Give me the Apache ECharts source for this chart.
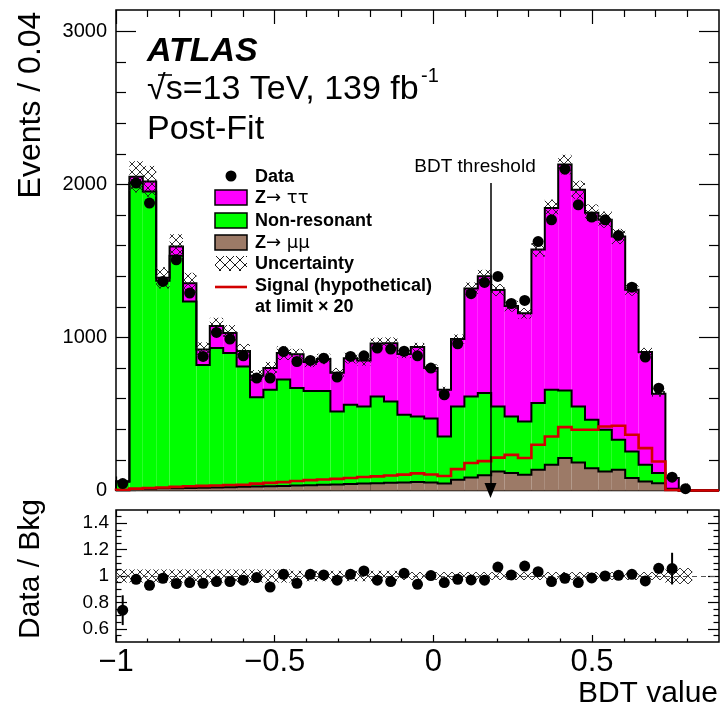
<!DOCTYPE html>
<html><head><meta charset="utf-8">
<script src="https://cdn.jsdelivr.net/npm/echarts@6/dist/echarts.min.js"></script>
<style>html,body{margin:0;padding:0;background:#fff}#c{width:723px;height:712px}</style>
</head><body><div id="c"></div>
<script>
// ---------------- data ----------------
const BIN_LOW = -1, BIN_HIGH = 0.9, N_BINS = 45;
const dataCounts = [45, 2009, 1878, 1366, 1508, 1290, 876, 1033, 990, 880, 735, 735, 908, 843, 850, 865, 741, 876, 880, 931, 924, 910, 880, 800, 625, 959, 1286, 1360, 1399, 1222, 1242, 1627, 1769, 2100, 1867, 1787, 1769, 1667, 1329, 872, 669, 87, 12, null, null];
const zmumu = [2, 10, 12, 14, 15, 17, 18, 20, 22, 24, 26, 28, 30, 32, 35, 37, 40, 42, 45, 47, 50, 52, 55, 52, 45, 70, 85, 100, 124, 114, 103, 135, 168, 212, 183, 146, 124, 135, 81, 59, 48, 4, 0, 0, 0];
const nonres = [55, 2000, 1942, 1356, 1519, 1218, 802, 912, 876, 786, 584, 630, 695, 638, 615, 613, 476, 518, 504, 567, 532, 443, 429, 418, 308, 479, 529, 537, 425, 370, 348, 436, 490, 442, 366, 316, 273, 196, 174, 109, 66, 8, 0, 0, 0];
const ztautau = [3, 40, 66, 20, 61, 120, 102, 143, 132, 102, 140, 142, 173, 220, 190, 210, 254, 305, 301, 346, 380, 397, 453, 330, 305, 441, 706, 763, 761, 721, 707, 1004, 1188, 1476, 1416, 1353, 1373, 1329, 1057, 737, 518, 70, 0, 0, 0];
const signalX20 = [5, 12, 16, 20, 24, 28, 30, 33, 36, 38, 45, 50, 55, 62, 68, 72, 76, 82, 88, 92, 98, 104, 112, 105, 95, 140, 180, 192, 215, 233, 212, 299, 353, 414, 397, 397, 418, 423, 364, 277, 190, 3, 0, 0, 0];
const relUnc = [0.05, 0.05, 0.05, 0.05, 0.05, 0.05, 0.05, 0.05, 0.05, 0.05, 0.05, 0.05, 0.05, 0.04, 0.04, 0.04, 0.04, 0.04, 0.04, 0.04, 0.04, 0.03, 0.03, 0.03, 0.03, 0.03, 0.03, 0.03, 0.03, 0.03, 0.03, 0.03, 0.03, 0.03, 0.03, 0.03, 0.03, 0.03, 0.03, 0.03, 0.03, 0.06, 0.06, 0, 0];
const ratio = [0.741, 0.975, 0.93, 0.983, 0.943, 0.95, 0.945, 0.958, 0.958, 0.968, 0.988, 0.916, 1.013, 0.945, 1.013, 1.008, 0.968, 1.013, 1.038, 0.968, 0.958, 1.02, 0.937, 1.003, 0.95, 0.975, 0.97, 0.968, 1.068, 1.008, 1.075, 1.033, 0.958, 0.983, 0.95, 0.985, 1.0, 1.005, 1.013, 0.963, 1.058, 1.056, null, null, null];
const ratioErr = [0.113, 0.02, 0.02, 0.02, 0.02, 0.02, 0.02, 0.02, 0.02, 0.02, 0.02, 0.02, 0.02, 0.02, 0.02, 0.02, 0.02, 0.02, 0.02, 0.02, 0.02, 0.02, 0.02, 0.02, 0.02, 0.02, 0.02, 0.02, 0.02, 0.02, 0.02, 0.02, 0.02, 0.02, 0.02, 0.02, 0.02, 0.02, 0.02, 0.03, 0.04, 0.12, null, null, null];
const BDT_THRESHOLD = 0.18, ARROW_TOP = 2010;
const xMajorTicks = [-1, -0.5, 0, 0.5];
const xMinorTicks = [-0.9, -0.8, -0.7, -0.6, -0.4, -0.3, -0.2, -0.1, 0.1, 0.2, 0.3, 0.4, 0.6, 0.7, 0.8];
const yMainMajor = [0, 1000, 2000, 3000];
const yMainMinor = [200, 400, 600, 800, 1200, 1400, 1600, 1800, 2200, 2400, 2600, 2800];
const yRatioMajor = [0.6, 0.8, 1, 1.2, 1.4];
const yRatioMinor = [0.55, 0.65, 0.7, 0.75, 0.85, 0.9, 0.95, 1.05, 1.1, 1.15, 1.25, 1.3, 1.35, 1.45];
const Y_MAIN_MAX = 3140, Y_RATIO_MIN = 0.5, Y_RATIO_MAX = 1.5;

// ---------------- styling ----------------
const FONT = '"Liberation Sans", Arial, Helvetica, sans-serif';
const C_TT = '#ff00ff', C_NR = '#00ff00', C_MM = '#9c7a67', C_SIG = '#d20000';
function edge(k) { return BIN_LOW + k * (BIN_HIGH - BIN_LOW) / N_BINS; }
function center(k) { return (edge(k) + edge(k + 1)) / 2; }
const topMM = zmumu.map(v => v);
const topNR = zmumu.map((v, i) => v + nonres[i]);
const total = zmumu.map((v, i) => v + nonres[i] + ztautau[i]);
const bins = total.map((v, i) => [i, v]);

function makeHatch(size, lw) {
  const c = document.createElement('canvas');
  c.width = size; c.height = size;
  const g = c.getContext('2d');
  g.strokeStyle = '#1a1a1a'; g.lineWidth = lw;
  g.beginPath();
  g.moveTo(0, 0); g.lineTo(size, size);
  g.moveTo(size, 0); g.lineTo(0, size);
  g.stroke();
  return c;
}
const hatch = { image: makeHatch(8, 0.9), repeat: 'repeat' };
const hatchLeg = { image: makeHatch(10, 1), repeat: 'repeat' };

function stepPoints(api, arr) {
  const pts = [api.coord([edge(0), 0])];
  for (let k = 0; k < N_BINS; k++) {
    pts.push(api.coord([edge(k), arr[k]]));
    pts.push(api.coord([edge(k + 1), arr[k]]));
  }
  pts.push(api.coord([edge(N_BINS), 0]));
  return pts;
}
function rectBetween(api, k, lo, hi) {
  const p0 = api.coord([edge(k), hi]);
  const p1 = api.coord([edge(k + 1), lo]);
  return { x: p0[0], y: p0[1], width: p1[0] - p0[0], height: p1[1] - p0[1] };
}

function xAx(grid, pos, ticks, len, labels) {
  return {
    type: 'value', gridIndex: grid, position: pos, min: BIN_LOW, max: BIN_HIGH,
    axisLine: { show: false, onZero: false }, splitLine: { show: false },
    axisTick: { show: true, inside: true, length: len, customValues: ticks, lineStyle: { color: '#000', width: 1.2 } },
    axisLabel: labels ? {
      show: true, customValues: ticks, fontSize: 31, fontFamily: FONT, color: '#000', margin: 5,
      formatter: v => v < 0 ? '\u2212' + (-v) : String(v)
    } : { show: false, customValues: ticks }
  };
}
function yAx(grid, pos, ticks, len, min, max, labels, fs, margin) {
  return {
    type: 'value', gridIndex: grid, position: pos, min: min, max: max,
    axisLine: { show: false, onZero: false }, splitLine: { show: false },
    axisTick: { show: true, inside: true, length: len, customValues: ticks, lineStyle: { color: '#000', width: 1.2 } },
    axisLabel: labels ? {
      show: true, customValues: ticks, fontSize: fs, fontFamily: FONT, color: '#000', margin: margin,
      formatter: v => String(+(+v).toFixed(2))
    } : { show: false, customValues: ticks }
  };
}

const option = {
  animation: false,
  backgroundColor: '#fff',
  grid: [
    { left: 116, top: 10, width: 603, height: 480.5, show: true, borderColor: '#000', borderWidth: 1.5, backgroundColor: 'transparent' },
    { left: 116, top: 510, width: 603, height: 132, show: true, borderColor: '#000', borderWidth: 1.5, backgroundColor: 'transparent' }
  ],
  xAxis: [
    xAx(0, 'bottom', xMajorTicks, 14, false),
    xAx(0, 'bottom', xMinorTicks, 7, false),
    xAx(0, 'top', xMajorTicks, 14, false),
    xAx(0, 'top', xMinorTicks, 7, false),
    xAx(1, 'bottom', xMajorTicks, 7, true),
    xAx(1, 'bottom', xMinorTicks, 3.5, false),
    xAx(1, 'top', xMajorTicks, 7, false),
    xAx(1, 'top', xMinorTicks, 3.5, false)
  ],
  yAxis: [
    yAx(0, 'left', yMainMajor, 20, 0, Y_MAIN_MAX, true, 20, 9),
    yAx(0, 'left', yMainMinor, 10, 0, Y_MAIN_MAX, false),
    yAx(0, 'right', yMainMajor, 20, 0, Y_MAIN_MAX, false),
    yAx(0, 'right', yMainMinor, 10, 0, Y_MAIN_MAX, false),
    yAx(1, 'left', yRatioMajor, 11, Y_RATIO_MIN, Y_RATIO_MAX, true, 19, 7),
    yAx(1, 'left', yRatioMinor, 5.5, Y_RATIO_MIN, Y_RATIO_MAX, false),
    yAx(1, 'right', yRatioMajor, 11, Y_RATIO_MIN, Y_RATIO_MAX, false),
    yAx(1, 'right', yRatioMinor, 5.5, Y_RATIO_MIN, Y_RATIO_MAX, false)
  ],
  series: [
    { // stacked fills
      type: 'custom', name: 'stack', xAxisIndex: 0, yAxisIndex: 0, z: 1, silent: true,
      data: bins,
      renderItem: (params, api) => {
        const k = api.value(0);
        const layers = [[0, topMM[k], C_MM], [topMM[k], topNR[k], C_NR], [topNR[k], total[k], C_TT]];
        const ch = [];
        layers.forEach(l => { if (l[1] > l[0]) ch.push({ type: 'rect', shape: rectBetween(api, k, l[0], l[1]), style: { fill: l[2] } }); });
        return { type: 'group', children: ch };
      }
    },
    { // stack outlines
      type: 'custom', name: 'outlines', xAxisIndex: 0, yAxisIndex: 0, z: 2, silent: true,
      data: [[0, 0]],
      renderItem: (params, api) => ({
        type: 'group', children: [topMM, topNR, total].map(arr => ({
          type: 'polyline', shape: { points: stepPoints(api, arr) },
          style: { stroke: '#000', lineWidth: 2, fill: null, lineJoin: 'miter' }
        }))
      })
    },
    { // uncertainty hatch (main)
      type: 'custom', name: 'unc', xAxisIndex: 0, yAxisIndex: 0, z: 3, silent: true,
      data: bins,
      renderItem: (params, api) => {
        const k = api.value(0);
        if (!(total[k] > 0) || !relUnc[k]) return null;
        return { type: 'rect', shape: rectBetween(api, k, total[k] * (1 - relUnc[k]), total[k] * (1 + relUnc[k])), style: { fill: hatch } };
      }
    },
    { // signal x20
      type: 'custom', name: 'signal', xAxisIndex: 0, yAxisIndex: 0, z: 4, silent: true,
      data: [[0, 0]],
      renderItem: (params, api) => ({
        type: 'polyline', shape: { points: stepPoints(api, signalX20) },
        style: { stroke: C_SIG, lineWidth: 2.6, fill: null }
      })
    },
    { // data
      type: 'scatter', name: 'Data', xAxisIndex: 0, yAxisIndex: 0, z: 6, silent: true,
      symbol: 'circle', symbolSize: 11, itemStyle: { color: '#000', opacity: 1 },
      data: dataCounts.map((v, k) => v == null ? null : [center(k), v]).filter(d => d),
      markLine: {
        silent: true, symbol: ['none', 'triangle'], symbolSize: [12, 15],
        lineStyle: { color: '#000', width: 1.5, type: 'solid' }, label: { show: false },
        data: [[{ coord: [BDT_THRESHOLD, ARROW_TOP] }, { coord: [BDT_THRESHOLD, 0] }]]
      }
    },
    { // ratio hatch
      type: 'custom', name: 'ratioUnc', xAxisIndex: 4, yAxisIndex: 4, z: 3, silent: true,
      data: bins,
      renderItem: (params, api) => {
        const k = api.value(0);
        if (!relUnc[k]) return null;
        return { type: 'rect', shape: rectBetween(api, k, 1 - relUnc[k], 1 + relUnc[k]), style: { fill: hatch } };
      }
    },
    { // ratio error bars
      type: 'custom', name: 'ratioErr', xAxisIndex: 4, yAxisIndex: 4, z: 5, silent: true,
      data: bins,
      renderItem: (params, api) => {
        const k = api.value(0);
        if (ratio[k] == null || !ratioErr[k]) return null;
        const a = api.coord([center(k), ratio[k] - ratioErr[k]]);
        const b = api.coord([center(k), ratio[k] + ratioErr[k]]);
        return { type: 'line', shape: { x1: a[0], y1: a[1], x2: b[0], y2: b[1] }, style: { stroke: '#000', lineWidth: 2 } };
      }
    },
    { // ratio points
      type: 'scatter', name: 'ratio', xAxisIndex: 4, yAxisIndex: 4, z: 6, silent: true,
      symbol: 'circle', symbolSize: 11, itemStyle: { color: '#000', opacity: 1 },
      data: ratio.map((v, k) => v == null ? null : [center(k), v]).filter(d => d),
      markLine: {
        silent: true, symbol: 'none', label: { show: false },
        lineStyle: { color: '#555', width: 1.2, type: [5, 4] },
        data: [{ yAxis: 1 }]
      }
    }
  ],
  graphic: [
    { type: 'text', x: 147, y: 52, style: { text: 'ATLAS', font: 'italic bold 34px ' + FONT, fill: '#000', verticalAlign: 'middle' } },
    { type: 'text', x: 147, y: 90, style: { text: '\u221As=13 TeV, 139 fb', font: '34px ' + FONT, fill: '#000', verticalAlign: 'middle' } },
    { type: 'line', shape: { x1: 158, y1: 75, x2: 172, y2: 75 }, style: { stroke: '#000', lineWidth: 1.6 } },
    { type: 'text', x: 421, y: 76, style: { text: '-1', font: '20px ' + FONT, fill: '#000', verticalAlign: 'middle' } },
    { type: 'text', x: 147, y: 130, style: { text: 'Post-Fit', font: '34px ' + FONT, fill: '#000', verticalAlign: 'middle' } },
    // legend
    { type: 'circle', shape: { cx: 231, cy: 176, r: 5.5 }, style: { fill: '#000' } },
    { type: 'text', x: 255, y: 177, style: { text: 'Data', font: 'bold 18px ' + FONT, fill: '#000', verticalAlign: 'middle' } },
    { type: 'rect', shape: { x: 215, y: 190, width: 32, height: 15 }, style: { fill: C_TT, stroke: '#000', lineWidth: 1.5 } },
    { type: 'text', x: 255, y: 198, style: { text: '{b|Z}{s|\u2192 \u03c4\u03c4}', fill: '#000', verticalAlign: 'middle', rich: { b: { font: 'bold 18px ' + FONT }, s: { font: '18px "DejaVu Sans", sans-serif' } } } },
    { type: 'rect', shape: { x: 215, y: 213, width: 32, height: 15 }, style: { fill: C_NR, stroke: '#000', lineWidth: 1.5 } },
    { type: 'text', x: 255, y: 221, style: { text: 'Non-resonant', font: 'bold 18px ' + FONT, fill: '#000', verticalAlign: 'middle' } },
    { type: 'rect', shape: { x: 215, y: 235, width: 32, height: 15 }, style: { fill: C_MM, stroke: '#000', lineWidth: 1.5 } },
    { type: 'text', x: 255, y: 243, style: { text: '{b|Z}{s|\u2192 \u03bc\u03bc}', fill: '#000', verticalAlign: 'middle', rich: { b: { font: 'bold 18px ' + FONT }, s: { font: '18px "DejaVu Sans", sans-serif' } } } },
    { type: 'rect', shape: { x: 215, y: 256, width: 32, height: 15 }, style: { fill: hatchLeg } },
    { type: 'text', x: 255, y: 264, style: { text: 'Uncertainty', font: 'bold 18px ' + FONT, fill: '#000', verticalAlign: 'middle' } },
    { type: 'line', shape: { x1: 215, y1: 287, x2: 247, y2: 287 }, style: { stroke: C_SIG, lineWidth: 2.6 } },
    { type: 'text', x: 255, y: 286, style: { text: 'Signal (hypothetical)', font: 'bold 18px ' + FONT, fill: '#000', verticalAlign: 'middle' } },
    { type: 'text', x: 255, y: 307, style: { text: 'at limit \u00d7 20', font: 'bold 18px ' + FONT, fill: '#000', verticalAlign: 'middle' } },
    // threshold label
    { type: 'text', x: 475, y: 167, style: { text: 'BDT threshold', font: '19px ' + FONT, fill: '#000', align: 'center', verticalAlign: 'middle' } },
    // axis titles
    { type: 'text', x: 31, y: 105, rotation: Math.PI / 2, style: { text: 'Events / 0.04', font: '32px ' + FONT, fill: '#000', align: 'center', verticalAlign: 'middle' } },
    { type: 'text', x: 31, y: 569, rotation: Math.PI / 2, style: { text: 'Data / Bkg', font: '30px ' + FONT, fill: '#000', align: 'center', verticalAlign: 'middle' } },
    { type: 'text', x: 718, y: 694, style: { text: 'BDT value', font: '30px ' + FONT, fill: '#000', align: 'right', verticalAlign: 'middle' } }
  ]
};
const chart = echarts.init(document.getElementById('c'), null, { renderer: 'canvas' });
chart.setOption(option);
</script></body></html>
